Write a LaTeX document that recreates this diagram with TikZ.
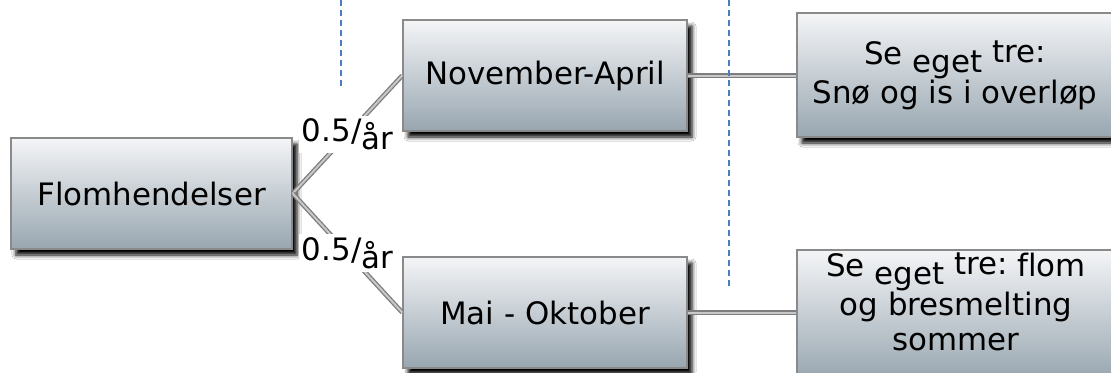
\documentclass[tikz,border=0pt]{standalone}
\usepackage{fontspec}
\setmainfont[Ligatures=NoCommon]{DejaVu Sans}
\usetikzlibrary{shadows.blur}
\definecolor{boxtop}{RGB}{244,245,247}
\definecolor{boxbot}{RGB}{152,166,176}
\definecolor{boxline}{RGB}{138,138,138}
\definecolor{dashblue}{RGB}{74,126,190}
\definecolor{connout}{RGB}{125,125,125}
\definecolor{conninner}{RGB}{200,200,200}
\tikzset{
 boxnode/.style={rectangle, draw=boxline, line width=1.5bp, top color=boxtop, bottom color=boxbot,
   font=\fontsize{31}{35}\selectfont, align=center, inner sep=0pt,
   blur shadow={shadow xshift=5bp, shadow yshift=-6bp, shadow blur radius=4bp, shadow opacity=100}},
 txt/.style={font=\fontsize{31}{35}\selectfont, align=center, inner sep=0pt},
 conn/.style={draw=connout, line width=1.3bp, double=conninner, double distance=2bp},
 lbl/.style={fill=white, font=\fontsize{31}{35}\selectfont, inner sep=3bp},
 divider/.style={draw=dashblue, line width=1.6bp, dash pattern=on 6bp off 4bp},
}
\newcommand{\dn}[1]{\raisebox{-0.25em}{#1}}
\newcommand{\up}[1]{\raisebox{0.07em}{#1}}
\begin{document}
\begin{tikzpicture}[x=1bp,y=-1bp]
\useasboundingbox (0,0) rectangle (1111,372);
\clip (0,0) rectangle (1111,372);
\fill[white] (0,0) rectangle (1111,372);

\node[boxnode, minimum width=281bp, minimum height=111bp] (flom) at (151.5,193.5) {Flomhendelser};
\node[boxnode, minimum width=284bp, minimum height=111bp] (nov) at (545,75.5) {November-April};
\node[boxnode, minimum width=284bp, minimum height=111bp] (mai) at (545,312.5) {Mai - Oktober};
\node[boxnode, minimum width=316bp, minimum height=124bp] (r1) at (955,75) {Se \dn{eget} \up{tre:}\\Snø og is i overløp};
\node[boxnode, minimum width=316bp, minimum height=130bp] (r2) at (955,315) {};
\node[txt] (r2t) at (956,302) {Se \dn{eget} \up{tre:} flom\\og bresmelting\\sommer};

\draw[conn] (flom.east) -- node[lbl] (l1) {0.5/\dn{år}} (nov.west);
\draw[conn] (flom.east) -- node[lbl] (l2) {0.5/\dn{år}} (mai.west);
\draw[conn] (nov.east) -- (nov.east -| r1.west);
\draw[conn] (mai.east) -- (mai.east -| r2.west);

\coordinate (d1a) at (341,0);
\coordinate (d1b) at (341,90);
\coordinate (d2a) at (729,0);
\coordinate (d2b) at (729,290);
\draw[divider] (d1a) -- (d1b);
\draw[divider] (d2a) -- (d2b);
\end{tikzpicture}
\end{document}
